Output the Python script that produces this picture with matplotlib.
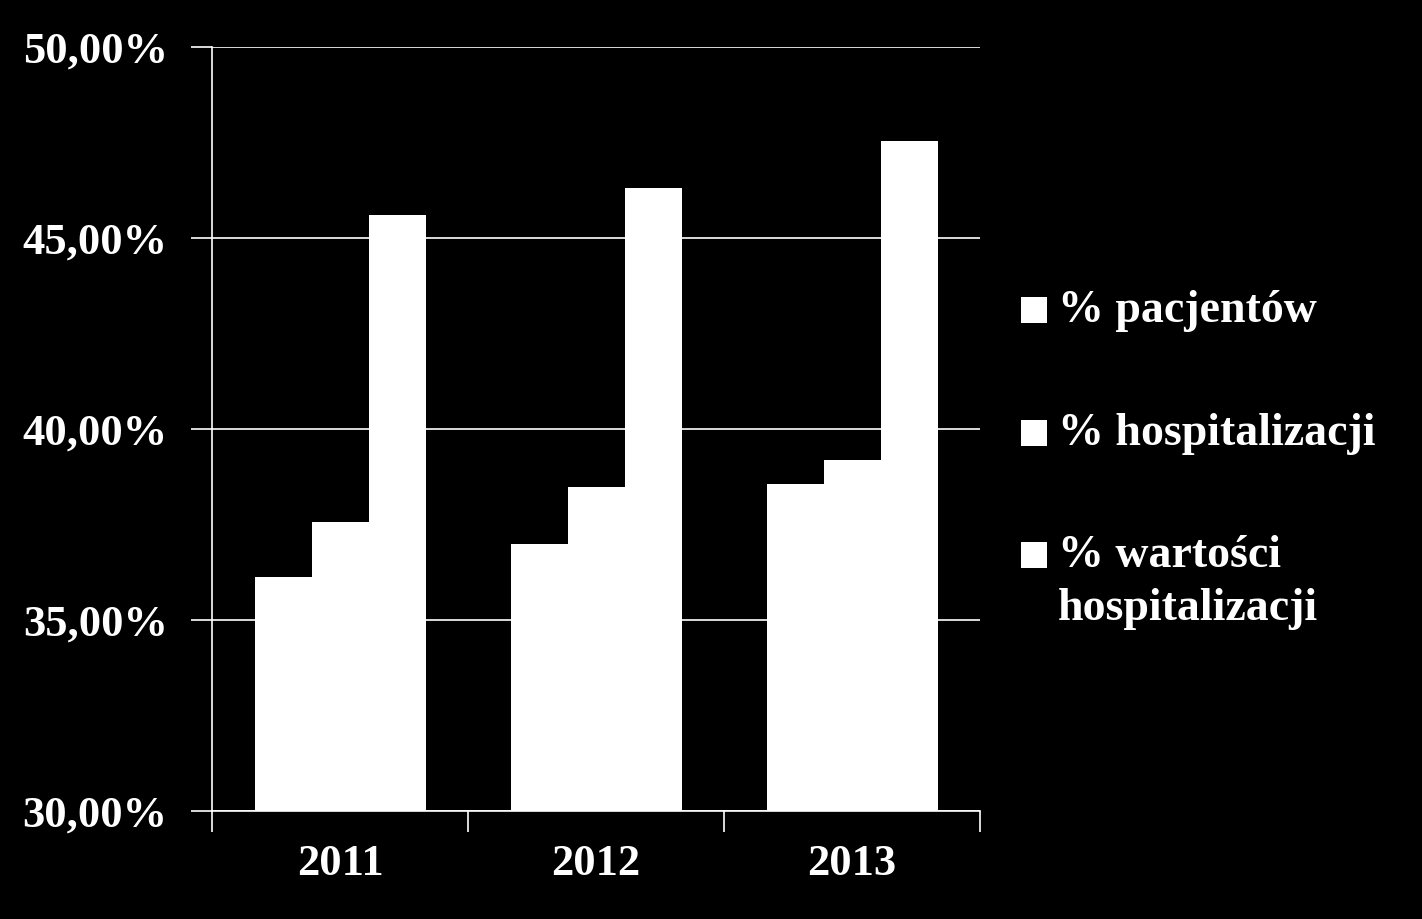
import matplotlib.pyplot as plt
import numpy as np
from matplotlib.patches import Rectangle
from matplotlib.ticker import FuncFormatter, FixedLocator

plt.rcParams["font.family"] = ["Liberation Serif", "DejaVu Serif"]
plt.rcParams["font.weight"] = "bold"

years = ["2011", "2012", "2013"]
series_names = ["% pacjentów", "% hospitalizacji", "% wartości\nhospitalizacji"]
pacjentow = [36.13, 36.99, 38.56]
hospitalizacji = [37.57, 38.48, 39.19]
wartosci = [45.60, 46.31, 47.54]
series = [pacjentow, hospitalizacji, wartosci]

FONT = 32
WHITE = "white"

fig = plt.figure(figsize=(14.22, 9.19), dpi=100, facecolor="black")
ax = fig.add_axes([0.1491, 0.1175, 0.5401, 0.8313], facecolor="black")

x = np.arange(len(years))
width = 0.2227
for i, vals in enumerate(series):
    ax.bar(x + (i - 1) * width, vals, width=width, bottom=0, color=WHITE,
           edgecolor="none", zorder=3)

ax.set_ylim(30, 50)
ax.set_xlim(-0.5, 2.5)
ax.set_yticks([30, 35, 40, 45, 50])
ax.yaxis.set_major_formatter(FuncFormatter(lambda v, p: f"{v:.2f}".replace(".", ",") + "%"))
ax.grid(True, axis="y", color=WHITE, linewidth=1.2, zorder=1)

ax.xaxis.set_major_locator(FixedLocator([-0.5, 0.5, 1.5, 2.5]))
ax.xaxis.set_minor_locator(FixedLocator(x))
ax.set_xticklabels([])
ax.set_xticklabels(years, minor=True)
ax.tick_params(axis="x", which="major", direction="out", length=15, width=1.2, color=WHITE)
ax.tick_params(axis="x", which="minor", length=0, pad=24, labelsize=FONT, labelcolor=WHITE)
ax.tick_params(axis="y", direction="out", length=15, width=1.2, color=WHITE,
               pad=17, labelsize=FONT, labelcolor=WHITE)

for side in ["top", "right"]:
    ax.spines[side].set_visible(False)
for side in ["left", "bottom"]:
    ax.spines[side].set_color(WHITE)
    ax.spines[side].set_linewidth(1.2)

# legend drawn by hand so the square sits on the first text line
leg_y = [1 - 310 / 919, 1 - 433 / 919, 1 - 555 / 919]
sq_w = 26 / 1422
sq_h = 26 / 919
for name, y in zip(series_names, leg_y):
    fig.patches.append(Rectangle((1021 / 1422, y - sq_h / 2), sq_w, sq_h,
                                 transform=fig.transFigure, facecolor=WHITE,
                                 edgecolor="none"))
    fig.text(1058 / 1422, y + 0.022, name, color=WHITE, fontsize=FONT + 1,
             ha="left", va="top", linespacing=1.35)

fig.savefig("out.png", dpi=100, facecolor="black")
